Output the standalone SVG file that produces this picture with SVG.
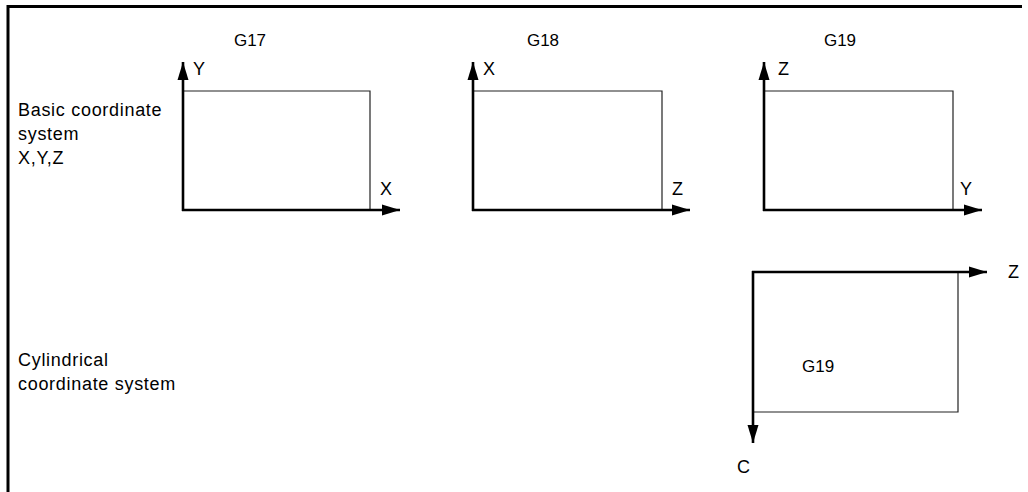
<svg xmlns="http://www.w3.org/2000/svg" width="1028" height="492" viewBox="0 0 1028 492">
<defs>
<style>
text{font-family:"Liberation Sans",Arial,sans-serif;font-size:18px;fill:#000}
.lb{letter-spacing:0.7px}
.gl{font-size:17px}
.ax{stroke:#000;stroke-width:2.6;fill:none}
.bx{stroke:#222;stroke-width:1.2;fill:none}
.fr{stroke:#000;stroke-width:3;fill:none}
</style>
<marker id="ah" markerUnits="userSpaceOnUse" markerWidth="20" markerHeight="12" viewBox="0 0 20 12" refX="18" refY="6" orient="auto">
<path d="M0,0.5 L18,6 L0,11.5 Z" fill="#000"/>
</marker>
</defs>
<rect width="1028" height="492" fill="#fff"/>
<g id="frame">
<path class="fr" d="M8,492 V6.5 H1022"/>
</g>
<g id="labels">
<text class="lb" x="18" y="116">Basic coordinate</text>
<text class="lb" x="18" y="140">system</text>
<text class="lb" x="18" y="164">X,Y,Z</text>
<text class="lb" x="18" y="366">Cylindrical</text>
<text class="lb" x="18" y="390">coordinate system</text>
</g>
<g id="g17">
<path class="bx" d="M183,91 H370 V210"/>
<text class="gl" x="250" y="46" text-anchor="middle">G17</text>
<text x="193" y="75">Y</text>
<text x="380" y="195">X</text>
</g>
<g id="g18">
<path class="bx" d="M473,91 H662 V210"/>
<text class="gl" x="543" y="46" text-anchor="middle">G18</text>
<text x="483" y="75">X</text>
<text x="672" y="195">Z</text>
</g>
<g id="g19">
<path class="bx" d="M764,91 H953 V210"/>
<text class="gl" x="840" y="46" text-anchor="middle">G19</text>
<text x="778" y="75">Z</text>
<text x="960" y="195">Y</text>
</g>
<g id="g19cyl">
<path class="bx" d="M958,272 V412 H753"/>
<text class="gl" x="802" y="372">G19</text>
<text x="1008" y="278">Z</text>
<text x="737" y="473">C</text>
</g>
<g id="connectors">
<line class="ax" x1="183" y1="211" x2="183" y2="62" marker-end="url(#ah)"/>
<line class="ax" x1="182" y1="210" x2="400" y2="210" marker-end="url(#ah)"/>
<line class="ax" x1="473" y1="211" x2="473" y2="62" marker-end="url(#ah)"/>
<line class="ax" x1="472" y1="210" x2="690" y2="210" marker-end="url(#ah)"/>
<line class="ax" x1="764" y1="211" x2="764" y2="62" marker-end="url(#ah)"/>
<line class="ax" x1="763" y1="210" x2="982" y2="210" marker-end="url(#ah)"/>
<line class="ax" x1="752" y1="272" x2="987" y2="272" marker-end="url(#ah)"/>
<line class="ax" x1="753" y1="271" x2="753" y2="443" marker-end="url(#ah)"/>
</g>
</svg>
